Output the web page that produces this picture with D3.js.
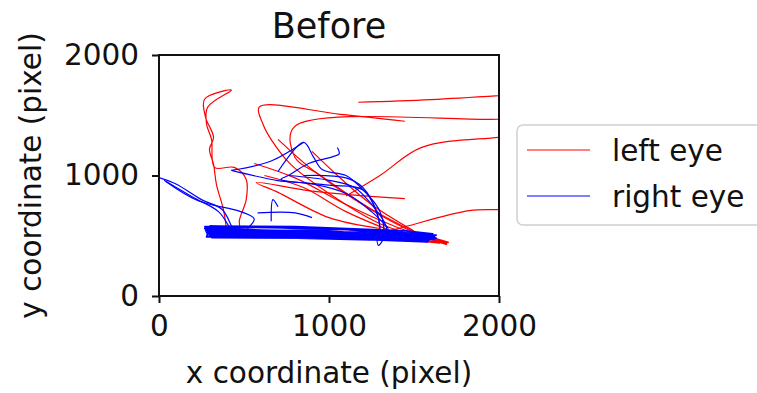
<!DOCTYPE html>
<html>
<head>
<meta charset="utf-8">
<script src="https://cdn.jsdelivr.net/npm/d3@7"></script>
<style>
  body { margin: 0; background: #fff; }
  svg { display: block; }
  text { font-family: "DejaVu Sans", sans-serif; fill: #111; }
</style>
</head>
<body>
<div id="chart"></div>
<script>
// gaze traces, screen pixels [x, y], one stroke per array
const leftEye = [
  [[1172,1608],[1600,1630],[2300,1690]],
  [[2300,1485],[2000,1467],[793,1400],[800,1150],[950,1000],[1250,720],[1590,480],[1680,440]],
  [[1446,1450],[1067,1508],[589,1567],[612,1425],[659,1300],[775,1092],[1009,842],[1300,600],[1650,450]],
  [[400,520],[379,717],[338,925],[321,1092],[297,1217],[321,1317],[274,1483],[268,1633],[426,1708],[286,1567],[280,1425],[309,1300],[327,1067],[443,1067],[513,967],[513,800],[472,617],[484,533]],
  [[1100,830],[1300,1000],[1545,1233],[2000,1317],[2300,1350]],
  [[1446,808],[900,870],[571,942],[700,860],[1000,650],[1300,560]],
  [[1300,520],[1446,575],[1825,708],[2000,717],[2300,720]],
  [[700,1300],[900,1050],[1150,800],[1450,560],[1620,470]],
  [[620,1000],[850,900],[1100,700],[1400,520]],
  [[560,1100],[800,980],[1100,760],[1350,600],[1600,470]],
  [[900,1200],[1050,1000],[1250,760],[1500,540]]
];
// fixation band, drawn straight
const leftEyeBand = [[420,530],[1000,530],[1600,480],[1690,430],[1620,460],[1650,440],[1200,510],[600,540],[1100,555],[1640,470],[1700,445],[1580,455],[1690,438],[1610,490]];

const rightEye = [
  [[0,983],[100,930],[250,800],[370,720],[420,600],[440,530]],
  [[30,960],[200,820],[350,700],[410,580],[430,520]],
  [[40,950],[230,790],[480,700],[560,640],[520,560]],
  [[700,1033],[851,1275],[910,1150],[960,1050],[1100,1000],[1150,950],[1300,700],[1320,480],[1290,420],[1280,520]],
  [[1049,1233],[1060,1180],[1020,1155],[950,1130],[880,1100],[760,1000],[717,967],[1000,920],[1200,880],[1290,650],[1300,500]],
  [[580,690],[800,690],[900,650]],
  [[660,620],[670,800],[700,740]],
  [[426,1042],[700,958],[900,930],[1100,850],[1250,700],[1350,560]],
  [[426,1042],[660,1120],[851,1275]],
  [[760,1000],[1000,960],[1150,900],[1250,760],[1330,600],[1350,480]],
  [[850,1000],[1100,980],[1200,900],[1280,700],[1300,560]]
];
const rightEyeBand = [[290,540],[1550,500],[1610,470],[300,520],[285,555],[1400,520],[1620,490],[320,530],[295,505],[1500,470],[1580,455],[350,545],[300,560],[1450,510],[1600,480],[280,525],[310,500],[1300,500],[1560,460],[340,520],[290,545],[1200,530],[1620,500],[300,535],[320,570],[300,490],[330,550],[290,520],[270,575],[1000,560],[1500,520],[1630,505],[1550,470],[900,500],[280,490],[300,580],[800,575],[1450,540],[1610,515],[1580,450],[1000,480],[310,485],[270,560],[600,570],[1300,545],[1630,480],[1250,465],[500,490],[275,540],[1000,540],[1620,470],[400,515],[290,565]];

const series = [
  { name: 'left eye', color: 'red', strokes: leftEye, band: leftEyeBand },
  { name: 'right eye', color: 'blue', strokes: rightEye, band: rightEyeBand }
];
const ticks = [0, 1000, 2000];

const W = 757, H = 393;
const m = { left: 159, right: 499, top: 55, bottom: 296 };

const svg = d3.select('#chart').append('svg')
  .attr('width', W).attr('height', H);

const x = d3.scaleLinear().domain([0, 2000]).range([m.left, m.right]);
const y = d3.scaleLinear().domain([0, 2000]).range([m.bottom, m.top]);

svg.append('clipPath').attr('id', 'plot')
  .append('rect')
  .attr('x', m.left).attr('y', m.top)
  .attr('width', m.right - m.left).attr('height', m.bottom - m.top);

const curved = d3.line().x(d => x(d[0])).y(d => y(d[1])).curve(d3.curveCatmullRom.alpha(0.5));
const straight = d3.line().x(d => x(d[0])).y(d => y(d[1]));

const g = svg.append('g').attr('clip-path', 'url(#plot)');
series.forEach(s => {
  g.selectAll(null).data(s.strokes).enter()
    .append('path')
    .attr('d', curved)
    .attr('fill', 'none')
    .attr('stroke', s.color)
    .attr('stroke-width', 1.2)
    .attr('stroke-linejoin', 'round');
  g.append('path')
    .attr('d', straight(s.band))
    .attr('fill', 'none')
    .attr('stroke', s.color)
    .attr('stroke-width', 1.8)
    .attr('stroke-linejoin', 'round');
});

// frame
svg.append('rect')
  .attr('x', m.left).attr('y', m.top)
  .attr('width', m.right - m.left).attr('height', m.bottom - m.top)
  .attr('fill', 'none').attr('stroke', '#111').attr('stroke-width', 2);

const fs = 29.5;

const xAxis = svg.append('g')
  .attr('transform', `translate(0,${m.bottom})`)
  .call(d3.axisBottom(x).tickValues(ticks).tickSize(7).tickPadding(12).tickFormat(d3.format('d')));
const yAxis = svg.append('g')
  .attr('transform', `translate(${m.left},0)`)
  .call(d3.axisLeft(y).tickValues(ticks).tickSize(7).tickPadding(13).tickFormat(d3.format('d')));

[xAxis, yAxis].forEach(a => {
  a.select('.domain').remove();
  a.selectAll('line').attr('stroke', '#111').attr('stroke-width', 2);
  a.selectAll('text').attr('font-size', fs).attr('font-family', '"DejaVu Sans", sans-serif').attr('fill', '#111');
});

svg.append('text')
  .attr('x', (m.left + m.right) / 2).attr('y', 38)
  .attr('text-anchor', 'middle')
  .attr('font-size', 35)
  .text('Before');

svg.append('text')
  .attr('x', (m.left + m.right) / 2).attr('y', 383)
  .attr('text-anchor', 'middle')
  .attr('font-size', fs)
  .text('x coordinate (pixel)');

svg.append('text')
  .attr('transform', `translate(41,${(m.top + m.bottom) / 2}) rotate(-90)`)
  .attr('text-anchor', 'middle')
  .attr('font-size', fs)
  .text('y coordinate (pixel)');

// legend
const lg = svg.append('g').attr('transform', 'translate(517,125)');
lg.append('rect')
  .attr('width', 260).attr('height', 100)
  .attr('rx', 6)
  .attr('fill', '#fff').attr('stroke', '#d0d0d0').attr('stroke-width', 1.5);
series.forEach((s, i) => {
  const row = lg.append('g').attr('transform', `translate(0,${25 + i * 46})`);
  row.append('line')
    .attr('x1', 10).attr('x2', 73)
    .attr('stroke', s.color).attr('stroke-width', 1.2);
  row.append('text')
    .attr('x', 95).attr('y', 11)
    .attr('font-size', fs)
    .text(s.name);
});
</script>
</body>
</html>
